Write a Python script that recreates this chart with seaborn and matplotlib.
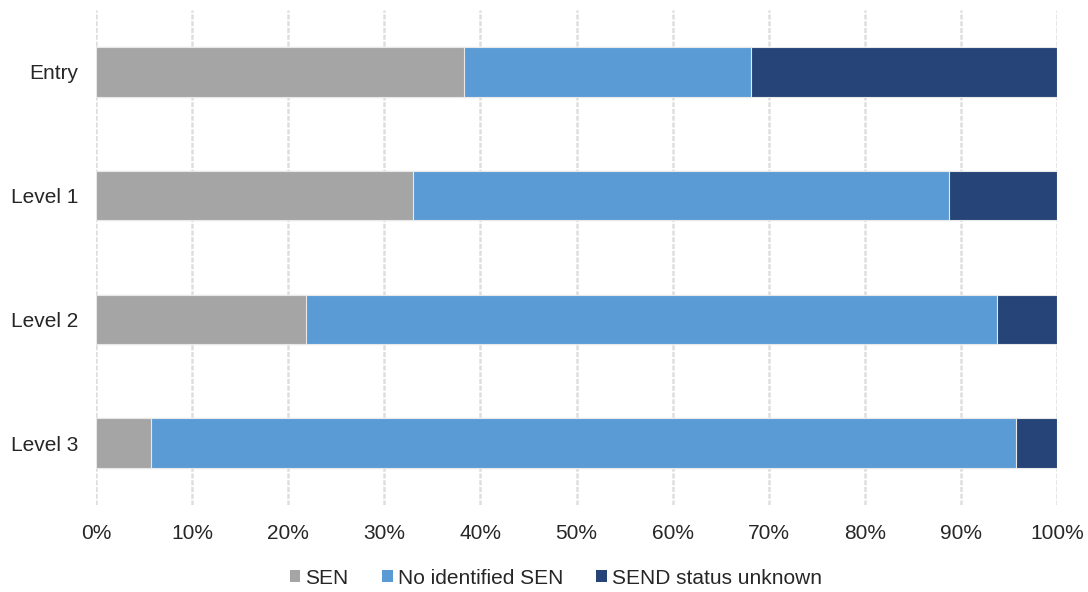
import numpy as np
import pandas as pd
import matplotlib
matplotlib.use('Agg')
import matplotlib.pyplot as plt
import seaborn as sns
from matplotlib.ticker import PercentFormatter
from matplotlib.patches import Patch

# Data (percentages)
levels = ['Entry', 'Level 1', 'Level 2', 'Level 3']
sen = [38.3, 33.0, 21.9, 5.7]
no_sen = [29.9, 55.8, 71.9, 90.0]
unknown = [31.8, 11.2, 6.2, 4.3]

series_names = ['SEN', 'No identified SEN', 'SEND status unknown']
colors = ['#A5A5A5', '#5B9BD5', '#264478']

sns.set_theme(style='white')
plt.rcParams['font.family'] = ['Liberation Sans', 'DejaVu Sans']

df = pd.DataFrame({'level': levels, 'SEN': sen,
                   'No identified SEN': no_sen,
                   'SEND status unknown': unknown})
# cumulative totals so the stacked bars can be layered
df['c1'] = df['SEN']
df['c2'] = df['c1'] + df['No identified SEN']
df['c3'] = df['c2'] + df['SEND status unknown']

fig = plt.figure(figsize=(10.88, 5.92), dpi=100)
ax = fig.add_axes([96 / 1088, 1 - 505 / 592, (1057 - 96) / 1088, (505 - 10) / 592])

for col, color in zip(['c3', 'c2', 'c1'], colors[::-1]):
    sns.barplot(data=df, x=col, y='level', order=levels, color=color,
                width=0.4, edgecolor='#E8E8E8', linewidth=0.8,
                saturation=1, ax=ax, zorder=3)

ax.set_xlim(0, 100)
ax.set_ylim(3.5, -0.5)
ax.set_xticks(np.arange(0, 101, 10))
ax.xaxis.set_major_formatter(PercentFormatter(decimals=0))
ax.set_xlabel('')
ax.set_ylabel('')
ax.grid(axis='x', color='#DEDEDE', linestyle=(0, (2, 0.7)), linewidth=1.8, zorder=0)
ax.set_axisbelow(True)
for s in ax.spines.values():
    s.set_visible(False)
ax.tick_params(axis='both', length=0, labelsize=15, colors='#262626')
ax.tick_params(axis='x', pad=14)
ax.tick_params(axis='y', pad=13)

handles = [Patch(facecolor=c, edgecolor='none', label=n) for c, n in zip(colors, series_names)]
fig.legend(handles=handles, loc='center', bbox_to_anchor=(0.511, 1 - 578 / 592), ncol=3,
           frameon=False, fontsize=15, handlelength=0.5, handleheight=0.5,
           handletextpad=0.25, columnspacing=1.6, labelcolor='#262626')

plt.savefig('out.png', dpi=100)
